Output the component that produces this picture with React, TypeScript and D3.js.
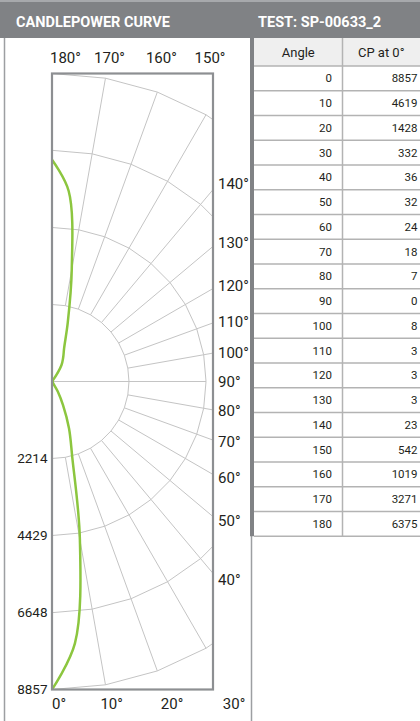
import React from "react";
import * as d3 from "d3";

// candlepower table (angle in degrees, cd)
const angles = [0, 10, 20, 30, 40, 50, 60, 70, 80, 90, 100, 110, 120, 130, 140, 150, 160, 170, 180];
const candela = [8857, 4619, 1428, 332, 36, 32, 24, 18, 7, 0, 8, 3, 3, 3, 23, 542, 1019, 3271, 6375];

const traceAngles = [5, 15, 25, 155, 165, 175];
const traceCandela = [7560, 2250, 750, 760, 1750, 5500];

const ringValues = [2214, 4429, 6648, 8857];
const topAngles = [180, 170, 160, 150];
const sideAngles = [140, 130, 120, 110, 100, 90, 80, 70, 60, 50, 40];
const bottomAngles = [0, 10, 20, 30];

const titleLeft = "CANDLEPOWER CURVE";
const titleRight = "TEST: SP-00633_2";
const tableHeads = ["Angle", "CP at 0°"];

const W = 420;
const H = 721;
const FONT = "Roboto, 'Noto Sans', sans-serif";
const INK = "#231f20";
const GREY = "#808285";

// polar plot geometry
const cx = 52;
const cy = 381.5;
const R = 308;
const boxRight = 213;

const rScale = d3.scaleLinear().domain([0, 8857]).range([0, R]);
const toRad = (deg: number) => Math.PI - (deg * Math.PI) / 180;

export default function App() {
  const points = angles
    .map((a, i) => [a, candela[i]])
    .concat(traceAngles.map((a, i) => [a, traceCandela[i]]))
    .sort((p, q) => p[0] - q[0]);

  const curve = d3
    .lineRadial<number[]>()
    .angle((d) => toRad(d[0]))
    .radius((d) => rScale(d[1]))
    .curve(d3.curveCatmullRom.alpha(0.5));

  const spokes = angles.filter((a) => a > 0 && a < 180);

  // table layout
  const tx0 = 254;
  const tDiv = 342.5;
  const tx1 = 423;
  const tTop = 38;
  const headH = 28;
  const rowH = 24.75;
  const tBottom = tTop + headH + rowH * angles.length;

  return (
    <svg
      width={W}
      height={H}
      viewBox={`0 0 ${W} ${H}`}
      style={{ position: "absolute", left: 0, top: 0, background: "#fff" }}
      fontFamily={FONT}
    >
      <defs>
        <clipPath id="box">
          <rect x={cx} y={cy - R} width={boxRight - cx} height={2 * R} />
        </clipPath>
      </defs>

      {/* header bar */}
      <rect x={0} y={0} width={W} height={tTop} fill={GREY} />
      <rect x={0} y={0} width={W} height={2} fill="#a7a9ac" />
      <text x={16} y={26.5} fill="#fff" fontSize={14.5} fontWeight={700}>
        {titleLeft}
      </text>
      <text x={258} y={26.5} fill="#fff" fontSize={14.5} fontWeight={700}>
        {titleRight}
      </text>

      {/* panel borders */}
      <line x1={4.5} x2={4.5} y1={tTop} y2={H} stroke="#9d9fa2" strokeWidth={1.5} />
      <line x1={251.5} x2={251.5} y1={tTop} y2={H} stroke="#9d9fa2" strokeWidth={1.5} />

      {/* polar grid + curve, clipped to the frame */}
      <g clipPath="url(#box)">
        <g transform={`translate(${cx},${cy})`}>
          {ringValues.map((v) => {
            const pts = angles.map((a) => d3.pointRadial(toRad(a), rScale(v)));
            return (
              <polyline
                key={v}
                points={pts.map((p) => p.join(",")).join(" ")}
                fill="none"
                stroke="#c4c4c4"
                strokeWidth={1}
              />
            );
          })}
          {spokes.map((a) => {
            const r0 = a === 90 ? 0 : rScale(ringValues[0]);
            const r1 = a === 90 ? rScale(ringValues[1]) : R;
            const [x0, y0] = d3.pointRadial(toRad(a), r0);
            const [x1, y1] = d3.pointRadial(toRad(a), r1);
            return <line key={a} x1={x0} y1={y0} x2={x1} y2={y1} stroke="#c4c4c4" strokeWidth={1} />;
          })}
          <path d={curve(points) || ""} fill="none" stroke="#8cc63f" strokeWidth={2.5} />
        </g>
      </g>

      {/* frame */}
      <rect
        x={cx}
        y={cy - R}
        width={boxRight - cx}
        height={2 * R}
        fill="none"
        stroke="#8d8f92"
        strokeWidth={2.2}
      />

      {/* ring labels */}
      {ringValues.map((v) => (
        <text key={v} x={47.5} y={cy + rScale(v) + 4.5} textAnchor="end" fontSize={13.5} fill={INK}>
          {v}
        </text>
      ))}

      {/* angle labels */}
      {topAngles.map((a) => {
        const [px] = d3.pointRadial(toRad(a), R);
        const start = a === 180;
        return (
          <text
            key={a}
            x={start ? cx - 2 : cx + px + 4}
            y={62.5}
            textAnchor={start ? "start" : "middle"}
            fontSize={15}
            fill={INK}
          >
            {a}°
          </text>
        );
      })}
      {sideAngles.map((a) => {
        const lx = 218;
        const t = (a * Math.PI) / 180;
        const y = cy + ((lx - cx) * Math.cos(t)) / Math.sin(t);
        return (
          <text key={a} x={lx} y={y + 5.5} fontSize={15} fill={INK}>
            {a}°
          </text>
        );
      })}
      {bottomAngles.map((a) => {
        const ly = 703;
        const t = (a * Math.PI) / 180;
        const x = cx + (ly - cy) * Math.tan(t);
        const start = a === 0;
        return (
          <text
            key={a}
            x={start ? cx : Math.min(x + 3, 234)}
            y={ly + 5.5}
            textAnchor={start ? "start" : "middle"}
            fontSize={15}
            fill={INK}
          >
            {a}°
          </text>
        );
      })}

      {/* table */}
      <rect x={250} y={tTop} width={4} height={tBottom - tTop} fill={GREY} />
      <rect x={tx0} y={tTop} width={tx1 - tx0} height={headH} fill="#efefef" />
      {tableHeads.map((h, i) => (
        <text
          key={h}
          x={i === 0 ? (tx0 + tDiv) / 2 : (tDiv + 420) / 2}
          y={tTop + headH / 2 + 4.5}
          textAnchor="middle"
          fontSize={13}
          fill={INK}
        >
          {h}
        </text>
      ))}
      {angles.map((a, i) => {
        const y = tTop + headH + i * rowH;
        return (
          <g key={a}>
            <text x={332} y={y + rowH / 2 + 4} textAnchor="end" fontSize={11.5} fill={INK}>
              {a}
            </text>
            <text x={417.5} y={y + rowH / 2 + 4} textAnchor="end" fontSize={11.5} fill={INK}>
              {candela[i]}
            </text>
          </g>
        );
      })}
      {d3.range(angles.length + 1).map((i) => {
        const y = tTop + headH + i * rowH;
        return <line key={i} x1={tx0} x2={tx1} y1={y} y2={y} stroke="#b3b3b3" strokeWidth={1.5} />;
      })}
      <line x1={tDiv} x2={tDiv} y1={tTop} y2={tBottom} stroke="#b3b3b3" strokeWidth={1.5} />
    </svg>
  );
}
